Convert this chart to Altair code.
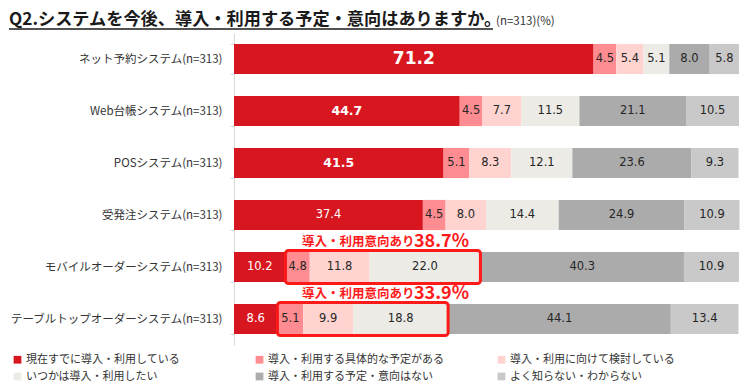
import altair as alt
import pandas as pd

# ---------------- data ----------------
systems = [
    "ネット予約システム(n=313)",
    "Web台帳システム(n=313)",
    "POSシステム(n=313)",
    "受発注システム(n=313)",
    "モバイルオーダーシステム(n=313)",
    "テーブルトップオーダーシステム(n=313)",
]
answers = [
    "現在すでに導入・利用している",
    "導入・利用する具体的な予定がある",
    "導入・利用に向けて検討している",
    "いつかは導入・利用したい",
    "導入・利用する予定・意向はない",
    "よく知らない・わからない",
]
colors = ["#D7161F", "#FF8C90", "#FFD4D0", "#ECEBE6", "#ABABAB", "#C9C9C9"]

values = [
    [71.2, 4.5, 5.4, 5.1, 8.0, 5.8],
    [44.7, 4.5, 7.7, 11.5, 21.1, 10.5],
    [41.5, 5.1, 8.3, 12.1, 23.6, 9.3],
    [37.4, 4.5, 8.0, 14.4, 24.9, 10.9],
    [10.2, 4.8, 11.8, 22.0, 40.3, 10.9],
    [8.6, 5.1, 9.9, 18.8, 44.1, 13.4],
]
intent_rows = ["モバイルオーダーシステム(n=313)", "テーブルトップオーダーシステム(n=313)"]
intent_totals = [38.7, 33.9]

title_text = "Q2.システムを今後、導入・利用する予定・意向はありますか。"
subtitle_text = "(n=313)(%)"
intent_prefix = "導入・利用意向あり"

FONT = "Noto Sans CJK JP"
NUMFONT = "DejaVu Sans"

# ---------------- tables ----------------
rows = []
for si, s in enumerate(systems):
    cum = 0.0
    for ai, a in enumerate(answers):
        v = values[si][ai]
        rows.append(dict(system=s, answer=a, order=ai, value=v,
                         start=cum, end=cum + v, mid=cum + v / 2,
                         label=f"{v:.1f}", row=si))
        cum += v
df = pd.DataFrame(rows)

box_rows = []
for s, t in zip(intent_rows, intent_totals):
    si = systems.index(s)
    start = values[si][0]
    end = sum(values[si][:4])
    box_rows.append(dict(system=s, start=start, end=end,
                         prefix=intent_prefix, total=f"{t:.1f}%"))
box_df = pd.DataFrame(box_rows)

yenc = alt.Y("system:N", sort=systems, title=None,
             scale=alt.Scale(paddingInner=0.42, paddingOuter=0.21),
             axis=alt.Axis(labelFont=FONT, labelFontSize=11.5, labelColor="#333333",
                           labelPadding=8, labelLimit=400, tickBand="extent",
                           tickColor="#D9D9D9", tickSize=4, domainColor="#D9D9D9",
                           grid=False))
xscale = alt.Scale(domain=[0, 100], nice=False, zero=True)

bars = alt.Chart(df).mark_bar().encode(
    x=alt.X("start:Q", scale=xscale, axis=None),
    x2="end:Q",
    y=yenc,
    color=alt.Color("answer:N", sort=answers,
                    scale=alt.Scale(domain=answers, range=colors),
                    legend=alt.Legend(title=None, orient="none", legendX=-222, legendY=321,
                                      direction="horizontal",
                                      columns=3, gridAlign="all", columnPadding=52,
                                      rowPadding=5, symbolType="square", symbolSize=60,
                                      symbolStrokeWidth=0, labelFont=FONT, labelFontSize=11,
                                      labelColor="#333333", labelOffset=3, padding=0,
                                      labelLimit=400)),
    order="order:Q",
)

base_lbl = alt.Chart(df)
lbl_other = base_lbl.transform_filter("datum.order > 0").mark_text(
    font=NUMFONT, fontSize=11.5, color="#262626", baseline="middle", align="center"
).encode(x=alt.X("mid:Q", scale=xscale), y=alt.Y("system:N", sort=systems), text="label:N")

lbl_first_big = base_lbl.transform_filter("datum.order == 0 && datum.row == 0").mark_text(
    font=NUMFONT, fontSize=17, fontWeight="bold", color="white", baseline="middle", align="center"
).encode(x=alt.X("mid:Q", scale=xscale), y=alt.Y("system:N", sort=systems), text="label:N")

lbl_first_bold = base_lbl.transform_filter("datum.order == 0 && (datum.row == 1 || datum.row == 2)").mark_text(
    font=NUMFONT, fontSize=12.5, fontWeight="bold", color="white", baseline="middle", align="center"
).encode(x=alt.X("mid:Q", scale=xscale), y=alt.Y("system:N", sort=systems), text="label:N")

lbl_first_norm = base_lbl.transform_filter("datum.order == 0 && datum.row >= 3").mark_text(
    font=NUMFONT, fontSize=11.5, color="white", baseline="middle", align="center"
).encode(x=alt.X("mid:Q", scale=xscale), y=alt.Y("system:N", sort=systems), text="label:N")

boxes = alt.Chart(box_df).mark_bar(
    fillOpacity=0, stroke="#FF1A1A", strokeWidth=3, cornerRadius=3, size=33
).encode(x=alt.X("start:Q", scale=xscale), x2="end:Q", y=alt.Y("system:N", sort=systems))

ann_prefix = alt.Chart(box_df).mark_text(
    font=FONT, fontSize=12.5, fontWeight="bold", color="#FF1A1A", align="left",
    baseline="alphabetic", dy=-21
).encode(x=alt.value(68), y=alt.Y("system:N", sort=systems), text="prefix:N")

ann_total = alt.Chart(box_df).mark_text(
    font=FONT, fontSize=18, fontWeight="bold", color="#FF1A1A", align="left",
    baseline="alphabetic", dy=-20
).encode(x=alt.value(180), y=alt.Y("system:N", sort=systems), text="total:N")

tdf = pd.DataFrame([dict(t=title_text, s=subtitle_text)])
title = alt.Chart(tdf).mark_text(
    font=FONT, fontSize=17.2, fontWeight="bold", color="#1A1A1A", align="left", baseline="alphabetic"
).encode(x=alt.value(-225), y=alt.value(-8), text="t:N")
subtitle = alt.Chart(tdf).mark_text(
    font=FONT, fontSize=11.5, color="#333333", align="left", baseline="alphabetic"
).encode(x=alt.value(262), y=alt.value(-8), text="s:N")
underline = alt.Chart(tdf).mark_rule(color="#1A1A1A", strokeWidth=1.5).encode(
    x=alt.value(-225), x2=alt.value(259), y=alt.value(-4))

chart = alt.layer(
    bars, lbl_other, lbl_first_big, lbl_first_bold, lbl_first_norm,
    boxes, ann_prefix, ann_total, title, subtitle, underline
).properties(
    width=505, height=312,
    autosize=alt.AutoSizeParams(type="none"),
    padding={"left": 226, "top": 25, "right": 8, "bottom": 39},
).configure_view(stroke=None)

chart.save("out.html", embed_options={"renderer": "svg", "actions": False})
